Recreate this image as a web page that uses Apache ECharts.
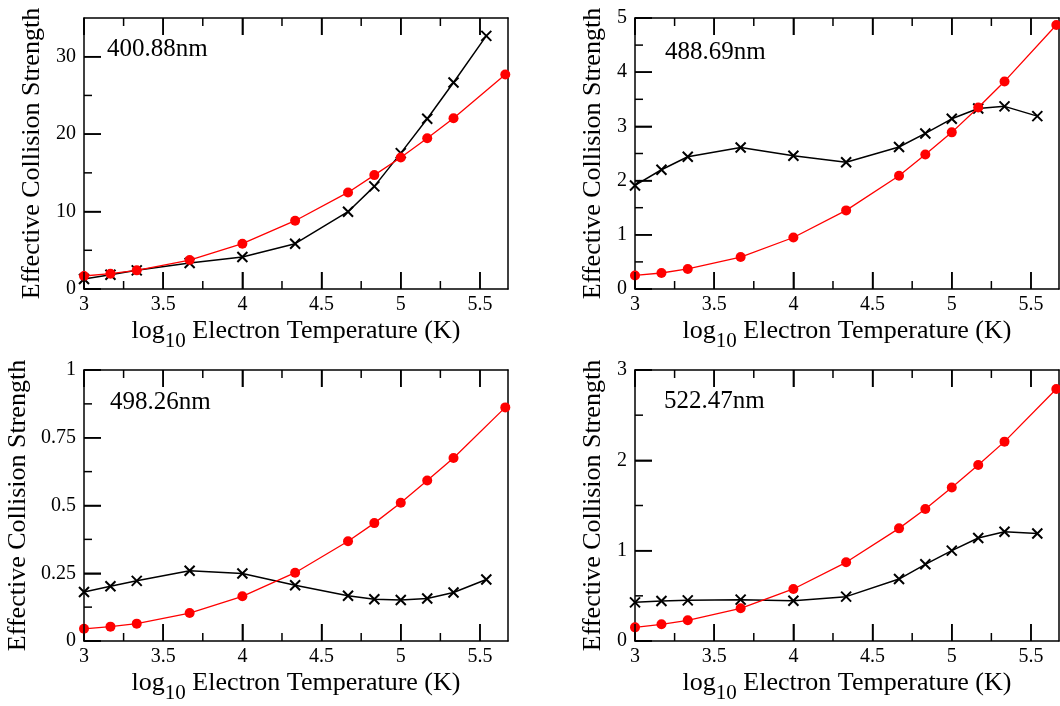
<!DOCTYPE html>
<html>
<head>
<meta charset="utf-8">
<script src="https://cdn.jsdelivr.net/npm/echarts@6/dist/echarts.min.js"></script>
<style>
html,body{margin:0;padding:0;background:#fff;}
#chart{width:1060px;height:706px;}
</style>
</head>
<body>
<div id="chart"></div>
<script>
// ---- data ----
const xRed   = [3, 3.167, 3.333, 3.667, 4, 4.333, 4.667, 4.833, 5, 5.167, 5.333, 5.66];
const xBlack = [3, 3.167, 3.333, 3.667, 4, 4.333, 4.667, 4.833, 5, 5.167, 5.333, 5.54];

const labels = ['400.88nm', '488.69nm', '498.26nm', '522.47nm'];

const red400   = [1.68, 1.98, 2.41, 3.74, 5.85, 8.82, 12.47, 14.71, 16.99, 19.48, 22.06, 27.7];
const black400 = [1.29, 1.85, 2.41, 3.35, 4.13, 5.85, 9.98, 13.25, 17.55, 21.98, 26.67, 32.69];

const red488   = [0.25, 0.295, 0.37, 0.59, 0.95, 1.45, 2.09, 2.48, 2.89, 3.35, 3.83, 4.87];
const black488 = [1.91, 2.2, 2.44, 2.61, 2.46, 2.34, 2.62, 2.87, 3.14, 3.33, 3.37, 3.19];

const red498   = [0.045, 0.053, 0.064, 0.103, 0.165, 0.252, 0.368, 0.435, 0.51, 0.592, 0.675, 0.862];
const black498 = [0.181, 0.202, 0.222, 0.259, 0.249, 0.206, 0.167, 0.154, 0.151, 0.157, 0.179, 0.227];

const red522   = [0.151, 0.185, 0.229, 0.362, 0.576, 0.871, 1.247, 1.461, 1.70, 1.948, 2.207, 2.79];
const black522 = [0.428, 0.443, 0.45, 0.458, 0.446, 0.491, 0.686, 0.849, 1.0, 1.14, 1.21, 1.19];

const redSets   = [red400, red488, red498, red522];
const blackSets = [black400, black488, black498, black522];

// tick values
const xMin = 3, xMax = 5.677;
const xMajorTicks = [3, 3.5, 4, 4.5, 5, 5.5];
const xMinorTicks = [3.25, 3.75, 4.25, 4.75, 5.25];
const yMaxs = [35, 5, 1, 3];
const yMajorTicks = [
  [0, 10, 20, 30],
  [0, 1, 2, 3, 4, 5],
  [0, 0.25, 0.5, 0.75, 1],
  [0, 1, 2, 3]
];
const yMinorTicks = [
  [5, 15, 25],
  [0.5, 1.5, 2.5, 3.5, 4.5],
  [0.125, 0.375, 0.625, 0.875],
  [0.5, 1.5, 2.5]
];

const xTitle = 'log{s|10} Electron Temperature (K)';
const yTitle = 'Effective Collision Strength';

// ---- layout ----
const FONT = '"Liberation Serif", "Times New Roman", serif';
const grids = [
  {left: 84,  top: 18,  width: 424, height: 271},
  {left: 635, top: 18,  width: 424, height: 271},
  {left: 84,  top: 370, width: 424, height: 271},
  {left: 635, top: 370, width: 424, height: 271}
];
const yNameGaps = [39, 29, 53, 29];
const annot = [
  {left: 107, top: 37},
  {left: 665, top: 40},
  {left: 110, top: 390},
  {left: 664, top: 389}
];
const MAJOR_LEN = 17, MINOR_LEN = 8;

const lineSty = {color: '#000', width: 1.5};
const xAxes = [], yAxes = [], series = [], graphics = [], pairs = [];

grids.forEach((g, i) => {
  const xBase = {gridIndex: i, type: 'value', min: xMin, max: xMax, splitLine: {show: false}};
  xAxes.push(Object.assign({}, xBase, {
    position: 'bottom',
    axisLine: {show: true, onZero: false, lineStyle: lineSty},
    axisTick: {show: true, inside: true, length: MAJOR_LEN, lineStyle: lineSty, customValues: xMajorTicks},
    axisLabel: {show: true, color: '#000', fontSize: 20, fontFamily: FONT, margin: 6, customValues: xMajorTicks},
    name: xTitle, nameLocation: 'middle', nameGap: 22,
    nameTextStyle: {color: '#000', fontSize: 26, fontFamily: FONT,
      rich: {s: {fontSize: 21, fontFamily: FONT, color: '#000', padding: [20, 0, 0, 0]}}}
  }));
  const idx = xAxes.length - 1;
  xAxes.push(Object.assign({}, xBase, {
    position: 'top',
    axisLine: {show: true, onZero: false, lineStyle: lineSty},
    axisLabel: {show: false},
    axisTick: {show: true, inside: true, length: MAJOR_LEN, lineStyle: lineSty, customValues: xMajorTicks}
  }));

  const yBase = {gridIndex: i, type: 'value', min: 0, max: yMaxs[i], splitLine: {show: false}};
  yAxes.push(Object.assign({}, yBase, {
    position: 'left',
    axisLine: {show: true, onZero: false, lineStyle: lineSty},
    axisTick: {show: true, inside: true, length: MAJOR_LEN, lineStyle: lineSty, customValues: yMajorTicks[i]},
    axisLabel: {show: true, color: '#000', fontSize: 20, fontFamily: FONT, margin: 8, customValues: yMajorTicks[i]},
    name: yTitle, nameLocation: 'middle', nameGap: yNameGaps[i],
    nameTextStyle: {color: '#000', fontSize: 26, fontFamily: FONT}
  }));
  const idy = yAxes.length - 1;
  yAxes.push(Object.assign({}, yBase, {
    position: 'right',
    axisLine: {show: true, onZero: false, lineStyle: lineSty},
    axisLabel: {show: false}, axisTick: {show: false}
  }));
  pairs.push({xAxisIndex: idx, yAxisIndex: idy});

  series.push({
    type: 'line', xAxisIndex: idx, yAxisIndex: idy,
    data: xBlack.map((x, j) => [x, blackSets[i][j]]),
    symbol: 'path://M0 0L10 10M10 0L0 10', symbolSize: 10, showAllSymbol: true,
    itemStyle: {color: 'rgba(0,0,0,0)', borderColor: '#000', borderWidth: 2},
    lineStyle: {color: '#000', width: 1.5},
    z: 2, animation: false
  });
  series.push({
    type: 'line', xAxisIndex: idx, yAxisIndex: idy,
    data: xRed.map((x, j) => [x, redSets[i][j]]),
    symbol: 'circle', symbolSize: 10, showAllSymbol: true,
    itemStyle: {color: '#ff0000', borderWidth: 0},
    lineStyle: {color: '#ff0000', width: 1.3},
    z: 3, animation: false
  });

  graphics.push({
    type: 'text', left: annot[i].left, top: annot[i].top,
    style: {text: labels[i], font: '25px ' + FONT, fill: '#000'}
  });
});

const chart = echarts.init(document.getElementById('chart'), null, {renderer: 'canvas'});
chart.setOption({
  backgroundColor: '#fff',
  animation: false,
  grid: grids.map(g => Object.assign({containLabel: false, outerBoundsMode: 'none'}, g)),
  xAxis: xAxes,
  yAxis: yAxes,
  series: series
});

// inward tick marks, placed through the axes' own scales
const tickLines = [];
const tickStyle = {stroke: '#000', lineWidth: 1.5};
pairs.forEach((finder, i) => {
  const yTop = yMaxs[i];
  const xTick = (v, len) => {
    const pb = chart.convertToPixel(finder, [v, 0]);
    const pt = chart.convertToPixel(finder, [v, yTop]);
    tickLines.push({type: 'line', z: 100, silent: true, shape: {x1: pb[0], y1: pb[1], x2: pb[0], y2: pb[1] - len}, style: tickStyle});
    tickLines.push({type: 'line', z: 100, silent: true, shape: {x1: pt[0], y1: pt[1], x2: pt[0], y2: pt[1] + len}, style: tickStyle});
  };
  const yTick = (v, len) => {
    const p = chart.convertToPixel(finder, [xMin, v]);
    tickLines.push({type: 'line', z: 100, silent: true, shape: {x1: p[0], y1: p[1], x2: p[0] + len, y2: p[1]}, style: tickStyle});
  };
  xMajorTicks.forEach(v => xTick(v, MAJOR_LEN));
  xMinorTicks.forEach(v => xTick(v, MINOR_LEN));
  yMajorTicks[i].forEach(v => yTick(v, MAJOR_LEN));
  yMinorTicks[i].forEach(v => yTick(v, MINOR_LEN));
});

chart.setOption({graphic: graphics.concat(tickLines)});
</script>
</body>
</html>
